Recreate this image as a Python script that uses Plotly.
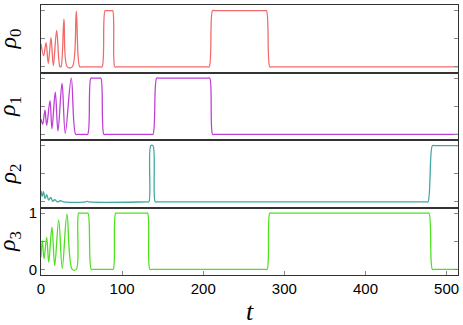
import plotly.graph_objects as go
from plotly.subplots import make_subplots

# ---- data ----
t_rho0 = [0, 3.3, 6.2, 9, 12.3, 15.2, 19.3, 23.4, 24.6, 28.3, 32.4, 38.5, 43.5, 47.7, 50,
          73, 75.3, 79, 81, 86.5, 88.3, 91, 93,
          205, 207.3, 211.4, 213.5, 276, 277.9, 282, 284, 514]
rho0 = [0.41, 0.2, 0.43, 0.06, 0.52, 0.02, 0.65, 0.0, 0.0, 0.85, 0.0, 0.0, 0.99, 0.0, 0.0,
        0.0, 0.0, 1.0, 1.0, 1.0, 1.0, 0.0, 0.0,
        0.0, 0.0, 1.0, 1.0, 1.0, 1.0, 0.0, 0.0, 0.0]

t_rho1 = [0, 2.1, 4.9, 7, 11.1, 13.5, 17.6, 20.9, 25.9, 29.9, 37.3, 42.7, 45,
          55, 57.5, 61.5, 63.5, 72, 73.8, 77.5, 79.5,
          136, 138, 142.5, 144.5, 206, 208, 211.5, 213.5, 514]
rho1 = [0.27, 0.18, 0.43, 0.16, 0.6, 0.1, 0.75, 0.06, 0.91, 0.02, 1.0, 0.0, 0.0,
        0.0, 0.0, 1.0, 1.0, 1.0, 1.0, 0.0, 0.0,
        0.0, 0.0, 1.0, 1.0, 1.0, 1.0, 0.0, 0.0, 0.0]

t_rho2 = [0, 1.5, 3, 5, 7, 9.5, 12, 14.5, 17, 20, 24, 28, 55, 57, 59,
          131, 133, 135.3, 138, 140.8, 143, 475, 477, 482.4, 484.5, 514]
rho2 = [0.2, 0.1, 0.18, 0.06, 0.13, 0.03, 0.08, 0.01, 0.04, 0.0, 0.02, 0.0, 0.0, 0.01, 0.0,
        0.0, 0.0, 1.0, 1.0, 0.0, 0.0, 0.0, 0.0, 1.0, 1.0, 1.0]

t_rho3 = [0, 1.6, 3.7, 7, 9.5, 13.5, 16.9, 21.8, 26.2, 32, 38.5, 43.5, 46.4, 48.5,
          56, 57.9, 61.9, 64, 87, 89, 92, 94, 129.5, 131.4, 134.2, 136.5,
          276.5, 278.7, 282, 284, 476, 478.2, 482.4, 484.5, 514]
rho3 = [0.22, 0.51, 0.19, 0.57, 0.13, 0.75, 0.07, 0.88, 0.02, 0.98, 0.0, 0.0, 1.0, 1.0,
        1.0, 1.0, 0.0, 0.0, 0.0, 0.0, 1.0, 1.0, 1.0, 1.0, 0.0, 0.0,
        0.0, 0.0, 1.0, 1.0, 1.0, 1.0, 0.0, 0.0, 0.0]

series = [(t_rho0, rho0, "#f26a6a", "0"),
          (t_rho1, rho1, "#bf3fd6", "1"),
          (t_rho2, rho2, "#3fa8a0", "2"),
          (t_rho3, rho3, "#4fe020", "3")]

x_ticks = [0, 100, 200, 300, 400, 500]
y_ticks = [0, 0.5, 1]
y_ticktext = ["0", "", "1"]

fig = make_subplots(rows=4, cols=1, shared_xaxes=True, vertical_spacing=0)

for i, (tx, ty, col, lab) in enumerate(series):
    fig.add_trace(go.Scatter(x=tx, y=ty, mode="lines",
                             line=dict(color=col, width=1.3, shape="spline", smoothing=1.0),
                             showlegend=False, hoverinfo="skip"), row=i + 1, col=1)
    last = (i == 3)
    fig.update_yaxes(row=i + 1, col=1, range=[-0.1, 1.1], tickvals=y_ticks,
                     ticktext=y_ticktext if last else ["", "", ""],
                     ticks="inside", ticklen=4, tickcolor="#888", tickwidth=1.2,
                     showline=True, linecolor="#333", linewidth=1, mirror="ticks",
                     showgrid=False, zeroline=False,
                     tickfont=dict(family="Liberation Sans, Arial", size=15, color="black"))
    fig.update_xaxes(row=i + 1, col=1, range=[0, 514], tickvals=x_ticks,
                     ticks="inside" if last else "", ticklen=4, tickcolor="#888", tickwidth=1.2,
                     showticklabels=last,
                     showline=True, linecolor="#333", linewidth=1, mirror=True,
                     showgrid=False, zeroline=False,
                     tickfont=dict(family="Liberation Sans, Arial", size=15, color="black"))
    fig.add_annotation(text="<i>ρ</i><sub>" + lab + "</sub>", textangle=-90,
                       xref="paper", x=-0.075, yref="y%s domain" % ("" if i == 0 else i + 1), y=0.5,
                       showarrow=False, xanchor="center", yanchor="middle",
                       font=dict(family="Liberation Serif, DejaVu Serif", size=24, color="black"))

fig.add_annotation(text="<i>t</i>", xref="paper", x=0.5, yref="paper", y=-0.135,
                   showarrow=False, xanchor="center", yanchor="middle",
                   font=dict(family="Liberation Serif, DejaVu Serif", size=26, color="black"))

fig.update_layout(width=463, height=325, margin=dict(l=41, r=5, t=2, b=50),
                  plot_bgcolor="white", paper_bgcolor="white")

fig.write_html("out.html", config={"displayModeBar": False},
               post_script="document.body.style.margin='0px';document.body.style.overflow='hidden';")
